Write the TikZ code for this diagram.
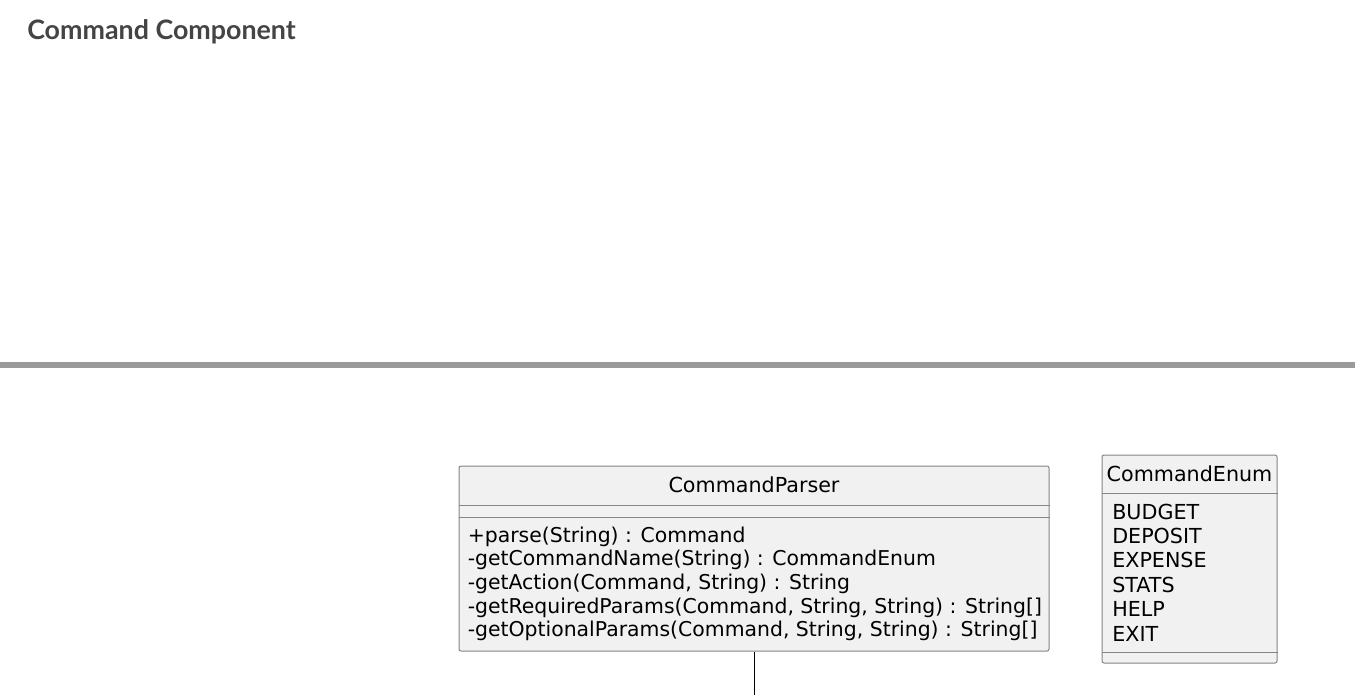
\documentclass[tikz,border=0pt]{standalone}
\usepackage{fontspec}
\setmainfont{DejaVu Sans}
\newfontfamily\titlefont{Lato}

\definecolor{classfill}{HTML}{F1F1F1}
\definecolor{classline}{HTML}{858585}
\definecolor{titlegray}{HTML}{444444}
\definecolor{rulegray}{HTML}{9A9A9A}

\tikzset{
	classbox/.style={draw=classline, fill=classfill, line width=0.75pt, rounded corners=1.5pt, inner sep=0pt},
	member/.style={anchor=base west, inner sep=0pt, font=\fontsize{15.5}{18}\selectfont},
	classname/.style={anchor=base, inner sep=0pt, font=\fontsize{15.5}{18}\selectfont},
}

\begin{document}
\begin{tikzpicture}[x=0.75pt, y=-0.75pt]
	\useasboundingbox (0,0) rectangle (1355,695);
	% heading and page rule
	\node[anchor=base west, inner sep=0pt, text=titlegray, font=\titlefont\bfseries\fontsize{20.1}{24}\selectfont] (heading) at (27,40) {Command Component};
	\draw[rulegray, line width=4.5pt] (0,364.5) -- (1355,364.5);

	% CommandParser
	\node[classbox, minimum width=442.5pt, minimum height=138.75pt] (parser) at (754,558.5) {};
	\draw[classline, line width=0.75pt] (parser.west |- 0,505) -- (parser.east |- 0,505);
	\draw[classline, line width=0.75pt] (parser.west |- 0,517) -- (parser.east |- 0,517);
	\node[classname] (parsername) at (754,492) {CommandParser};
	\foreach \m [count=\i from 0] in {+parse(String) : Command,
		-getCommandName(String) : CommandEnum,
		{-getAction(Command, String) : String},
		{-getRequiredParams(Command, String, String) : String[]},
		{-getOptionalParams(Command, String, String) : String[]}}
		\node[member, font=\fontsize{15.3}{18}\selectfont] (method\i) at (467.5,542+23.7*\i) {\m};

	% CommandEnum
	\node[classbox, minimum width=131.25pt, minimum height=156pt] (cmdenum) at (1189.5,559) {};
	\draw[classline, line width=0.75pt] (cmdenum.west |- 0,493) -- (cmdenum.east |- 0,493);
	\draw[classline, line width=0.75pt] (cmdenum.west |- 0,652) -- (cmdenum.east |- 0,652);
	\node[classname] (enumname) at (1189.5,481) {CommandEnum};
	\foreach \v [count=\i from 0] in {BUDGET, DEPOSIT, EXPENSE, STATS, HELP, EXIT}
		\node[member] (value\i) at (1112,519+24.4*\i) {\v};

	% link leaving the page
	\coordinate (parsertail) at (754,695);
	\draw[line width=0.75pt] (parser.south) -- (parsertail);
\end{tikzpicture}
\end{document}
